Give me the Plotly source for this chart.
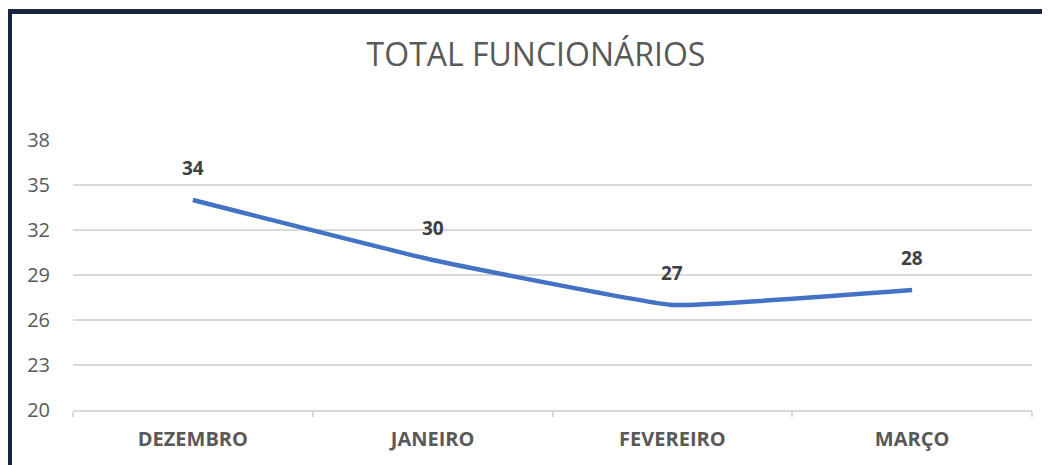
import plotly.graph_objects as go

months = ["DEZEMBRO", "JANEIRO", "FEVEREIRO", "MARÇO"]
totals = [34, 30, 27, 28]
y_ticks = [20, 23, 26, 29, 32, 35, 38]
title_text = "TOTAL FUNCIONÁRIOS"

FONT = "'Open Sans', sans-serif"
# page has an 8px body margin; figure occupies the rest of the 1050x465 window
W, H = 1042, 457
L, R, T, B = 65, 18, 132, 55
pw, ph = W - L - R, H - T - B

def px_x(x):
    return (x - L) / pw

def px_y(y):
    return (H - B - y) / ph

fig = go.Figure()
fig.add_trace(go.Scatter(
    x=months, y=totals, mode="lines",
    line=dict(color="#4472C4", width=4.5, shape="spline", smoothing=0.3),
    hoverinfo="skip", showlegend=False,
))

for m, v in zip(months, totals):
    fig.add_annotation(x=m, y=v, text=f"<b>{v}</b>", showarrow=False,
                       yshift=32, font=dict(family=FONT, size=19, color="#404040"))

border = "#17263d"
fig.add_shape(type="line", xref="paper", yref="paper",
              x0=px_x(1.5), x1=px_x(W + 5), y0=px_y(3.5), y1=px_y(3.5),
              line=dict(color=border, width=5))
fig.add_shape(type="line", xref="paper", yref="paper",
              x0=px_x(1.5), x1=px_x(1.5), y0=px_y(1), y1=px_y(H + 5),
              line=dict(color=border, width=5))

fig.update_layout(
    width=W, height=H,
    margin=dict(l=L, r=R, t=T, b=B),
    paper_bgcolor="white", plot_bgcolor="white",
    title=dict(text=title_text, x=528 / W, xanchor="center", xref="container",
               y=1 - 47 / H, yanchor="middle",
               font=dict(family=FONT, size=32, color="#595959")),
    xaxis=dict(
        type="category", showgrid=False, showline=True, linecolor="#d9d9d9", linewidth=1.5,
        ticks="outside", tickson="boundaries", ticklen=5, tickcolor="#d9d9d9", tickwidth=1.5,
        tickfont=dict(family=FONT, size=20, color="#595959", weight="bold"),
        ticklabelstandoff=10, range=[-0.5, 3.5], fixedrange=True,
    ),
    yaxis=dict(
        range=[20, 38], tickvals=y_ticks, showgrid=True, gridcolor="#d9d9d9", gridwidth=1.5,
        zeroline=False, showline=False, ticks="",
        tickfont=dict(family=FONT, size=20, color="#595959"),
        ticklabelstandoff=22, fixedrange=True,
    ),
)

fig.write_html("out.html", config={"displayModeBar": False})
